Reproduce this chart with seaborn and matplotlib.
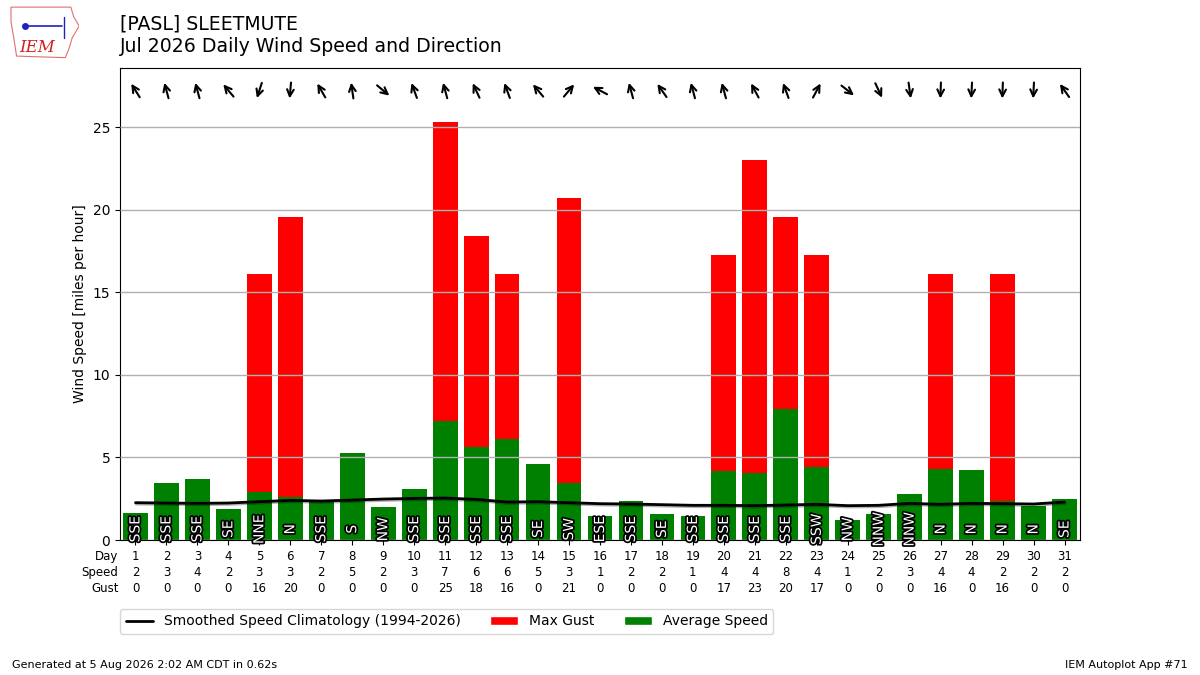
"""
Daily wind speed / direction chart for PASL (Sleetmute), July 2026.
Green = average speed, red = max gust, black = smoothed climatology.
"""

import matplotlib
matplotlib.use("Agg")
import matplotlib.pyplot as plt
import matplotlib.patheffects as pe
from matplotlib.patches import Patch, Polygon
from matplotlib.lines import Line2D
from matplotlib.transforms import offset_copy
import numpy as np
import seaborn as sns

# ---- data (mph) ----
days = list(range(1, 32))
avg_speed = [1.63, 3.45, 3.70, 1.88, 2.93, 2.62, 2.32, 5.25, 2.00, 3.09,
             7.20, 5.63, 6.11, 4.60, 3.47, 1.47, 2.36, 1.59, 1.47, 4.18,
             4.06, 7.93, 4.42, 1.21, 1.57, 2.78, 4.30, 4.24, 2.36, 2.08, 2.48]
max_gust = [0, 0, 0, 0, 16.11, 19.56, 0, 0, 0, 0,
            25.32, 18.41, 16.11, 0, 20.71, 0, 0, 0, 0, 17.26,
            23.02, 19.56, 17.26, 0, 0, 0, 16.11, 0, 16.11, 0, 0]
clim_speed = [2.26, 2.24, 2.22, 2.24, 2.32, 2.40, 2.36, 2.42, 2.48, 2.52,
              2.54, 2.46, 2.30, 2.32, 2.26, 2.20, 2.18, 2.14, 2.10, 2.10,
              2.08, 2.12, 2.16, 2.08, 2.10, 2.22, 2.16, 2.22, 2.20, 2.18, 2.30]
# direction wind blows from (degrees) and its compass label
wind_dir = [148, 165, 165, 140, 18, 5, 150, 172, 310, 160,
            165, 155, 160, 140, 220, 118, 165, 145, 165, 165,
            152, 160, 208, 308, 335, 352, 2, 3, 2, 3, 145]
dir_label = ["SSE", "SSE", "SSE", "SE", "NNE", "N", "SSE", "S", "NW", "SSE",
             "SSE", "SSE", "SSE", "SE", "SW", "ESE", "SSE", "SE", "SSE", "SSE",
             "SSE", "SSE", "SSW", "NW", "NNW", "NNW", "N", "N", "N", "N", "SE"]

# ---- style ----
sns.set_style("ticks")
plt.rcParams['font.family'] = ['DejaVu Sans']
plt.rcParams['axes.edgecolor'] = 'black'
plt.rcParams['text.color'] = 'black'
plt.rcParams['axes.labelcolor'] = 'black'
plt.rcParams['xtick.color'] = 'black'
plt.rcParams['ytick.color'] = 'black'

fig = plt.figure(figsize=(12, 6.75), dpi=100)
ax = fig.add_axes([0.1, 0.2, 0.8, 0.7])

sns.barplot(x=days, y=max_gust, color='red', saturation=1, width=0.8,
            native_scale=True, ax=ax, zorder=1, linewidth=0, edgecolor='none')
sns.barplot(x=days, y=avg_speed, color='green', saturation=1, width=0.8,
            native_scale=True, ax=ax, zorder=1.1, linewidth=0, edgecolor='none')
sns.lineplot(x=days, y=clim_speed, color='black', lw=2, ax=ax, zorder=3,
             path_effects=[pe.SimpleLineShadow(offset=(0.5, -1), alpha=0.3),
                           pe.Normal()])

ymax = max(max_gust) * 1.13
ax.set_xlim(0.5, 31.5)
ax.set_ylim(0, ymax)
ax.set_yticks([0, 5, 10, 15, 20, 25])
ax.yaxis.grid(True, color='#b0b0b0', lw=1)
ax.xaxis.grid(False)
ax.set_axisbelow(False)
ax.set_ylabel("Wind Speed [miles per hour]", fontsize=10)
ax.tick_params(axis='y', labelsize=10)

ax.set_xticks(days)
ax.set_xticklabels([f"{d}\n{s:.0f}\n{g:.0f}"
                    for d, s, g in zip(days, avg_speed, max_gust)],
                   fontsize=8.5, linespacing=1.3)
ax.set_xlabel("")
ax.annotate("Day\nSpeed\nGust", xy=(0, 0), xycoords='axes fraction',
            xytext=(-1, -7), textcoords='offset points',
            ha='right', va='top', fontsize=8.5, linespacing=1.3)

# compass labels inside the bars
for d, lab in zip(days, dir_label):
    ax.text(d, 0.65, lab, rotation=90, ha='center', va='center',
            color='white', fontsize=10, zorder=5,
            path_effects=[pe.withStroke(linewidth=2.5, foreground='black')])

# direction arrows along the top (pointing where the wind goes)
arrow_y = max_gust[10] * 1.075
L = 11.5
for d, deg in zip(days, wind_dir):
    th = np.radians(deg + 180)
    ux, uy = np.sin(th), np.cos(th)
    head_tr = offset_copy(ax.transData, fig=fig, x=0.5 * L * ux,
                          y=0.5 * L * uy, units='points')
    ax.annotate("", xy=(d, arrow_y), xycoords=head_tr,
                xytext=(-L * ux, -L * uy), textcoords='offset points',
                arrowprops=dict(arrowstyle='->', lw=1.5, color='black',
                                shrinkA=0, shrinkB=0, mutation_scale=12))

# legend below the axes
handles = [Line2D([0], [0], color='black', lw=2),
           Patch(facecolor='red'), Patch(facecolor='green')]
labels = ["Smoothed Speed Climatology (1994-2026)", "Max Gust", "Average Speed"]
fig.legend(handles, labels, ncol=3, loc='upper left',
           bbox_to_anchor=(0.1, 0.098), borderaxespad=0, fontsize=10,
           frameon=True, columnspacing=2.1)

# titles and footer
fig.text(0.1, 0.978, "[PASL] SLEETMUTE\nJul 2026 Daily Wind Speed and Direction",
         ha='left', va='top', fontsize=13.6)
fig.text(0.01, 0.015, "Generated at 5 Aug 2026 2:02 AM CDT in 0.62s",
         ha='left', va='center', fontsize=8)
fig.text(0.99, 0.015, "IEM Autoplot App #71",
         ha='right', va='center', fontsize=8)

# rough IEM logo
lax = fig.add_axes([0.008, 0.913, 0.058, 0.078])
lax.set_xlim(0, 1)
lax.set_ylim(0, 1)
lax.axis('off')
outline = [(0.02, 0.98), (0.88, 0.98), (0.92, 0.80), (1.0, 0.62), (0.90, 0.40),
           (0.85, 0.18), (0.80, 0.02), (0.10, 0.05), (0.06, 0.40), (0.02, 0.70)]
lax.add_patch(Polygon(outline, closed=True, fill=False, ec='#e07070', lw=0.8))
lax.plot([0.22, 0.75], [0.62, 0.62], color='#2020c0', lw=1.2)
lax.plot([0.22], [0.62], 'o', color='#2020c0', ms=4)
lax.plot([0.78, 0.78], [0.40, 0.80], color='#2020c0', lw=1)
lax.text(0.40, 0.22, "IEM", color='#d02020', fontsize=12, style='italic',
         family='serif', ha='center', va='center')

fig.savefig("out.png", dpi=100)
print("saved out.png")
